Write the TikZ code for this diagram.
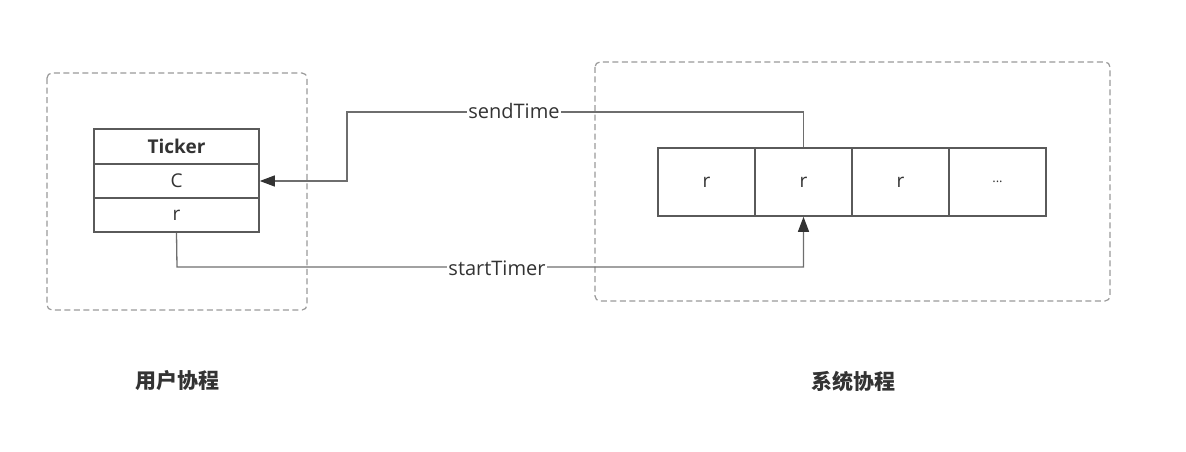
\documentclass[tikz,border=0pt]{standalone}
\usepackage{fontspec}
\setmainfont{Open Sans}
\newfontfamily\cjk{Noto Sans CJK SC}
\usetikzlibrary{arrows.meta}
\definecolor{boxline}{HTML}{5A5A5A}
\definecolor{connline}{HTML}{6E6E6E}
\definecolor{dashline}{HTML}{9A9A9A}
\definecolor{txt}{HTML}{333333}
\begin{document}
\begin{tikzpicture}[x=1pt,y=-1pt,
  group/.style={draw=dashline, line width=1.2pt, dash pattern=on 6pt off 3.5pt, rounded corners=5pt},
  classrow/.style={draw=boxline, line width=1.6pt, minimum width=165pt, minimum height=34.5pt, inner sep=0pt, text=txt, font=\fontsize{19}{22}\selectfont},
  cell/.style={draw=boxline, line width=1.6pt, minimum width=97pt, minimum height=68pt, inner sep=0pt, text=txt, font=\fontsize{19}{22}\selectfont},
  conn/.style={draw=connline, line width=1.3pt},
  tip/.style={-{Triangle[length=15pt,width=11pt,color=txt]}},
  lbl/.style={fill=white, inner sep=1pt, text=txt, font=\fontsize{20}{24}\selectfont},
  grouplbl/.style={text=txt, font=\cjk\bfseries\fontsize{21}{24}\selectfont}
]
\useasboundingbox (0,0) rectangle (1186,452);
% groups
\draw[group] (47,73) rectangle (307,310);
\draw[group] (595,62) rectangle (1110,301);
% class
\node[classrow, font=\bfseries\fontsize{19}{22}\selectfont] (ticker) at (176.5,146.5) {Ticker};
\node[classrow] (c) at (176.5,181) {C};
\node[classrow] (r) at (176.5,215) {r};
% array
\node[cell] (a1) at (706.5,182) {r};
\node[cell] (a2) at (803.5,182) {r};
\node[cell] (a3) at (900.5,182) {r};
\node[cell] (a4) at (997.5,182) {\fontsize{13}{15}\selectfont ...};
% connectors
\coordinate (sbend) at (347,112);
\coordinate (tbend) at (177,267);
\draw[conn, tip] (a2.north) |- (sbend) |- (c.east);
\draw[conn, tip] (r.south) -- (tbend) -| (a2.south);
\node[lbl] (sendlbl) at (514,111) {sendTime};
\node[lbl] (startlbl) at (497,268) {startTimer};
% group labels
\node[grouplbl] (ulbl) at (177,381) {用户协程};
\node[grouplbl] (slbl) at (853,381) {系统协程};
\end{tikzpicture}
\end{document}
